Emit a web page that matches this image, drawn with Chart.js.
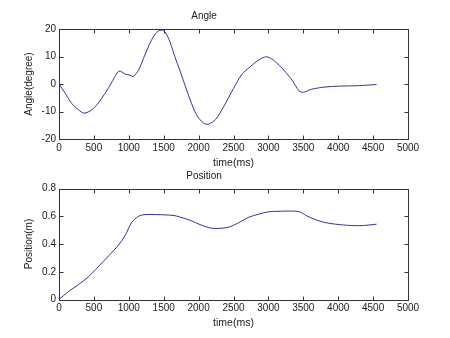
<!DOCTYPE html>
<html>
<head>
<meta charset="utf-8">
<script src="https://cdn.jsdelivr.net/npm/chart.js@4"></script>
<style>
  html, body { margin: 0; padding: 0; background: #ffffff; }
  #wrap { position: relative; width: 450px; height: 338px; background: #fff; }
  .box { position: absolute; left: 0; width: 450px; height: 169px; }
  #b1 { top: 0; }
  #b2 { top: 169px; }
</style>
</head>
<body>
<div id="wrap">
  <div class="box" id="b1"><canvas id="c1" width="450" height="169"></canvas></div>
  <div class="box" id="b2"><canvas id="c2" width="450" height="169"></canvas></div>
</div>
<script>
// ---- Data ----
const angleTime = [0, 90, 180, 280, 360, 470, 560, 660, 760, 860, 950, 1020, 1065, 1140, 1210, 1280, 1350, 1420, 1470, 1520, 1590, 1660, 1730, 1780, 1880, 1970, 2070, 2140, 2240, 2360, 2500, 2620, 2740, 2860, 2970, 3070, 3190, 3300, 3340, 3440, 3500, 3620, 3810, 4000, 4290, 4550];
const angleDeg  = [0, -3.4, -7.0, -9.4, -10.6, -9.4, -7.0, -3.4, 0.8, 4.7, 3.6, 3.2, 2.8, 5.1, 9.3, 13.5, 17.1, 19.2, 19.6, 18.9, 15.3, 9.9, 5.1, 1.4, -5.8, -11.2, -14.2, -14.6, -13.0, -8.2, -1.6, 3.5, 6.3, 8.7, 9.9, 8.7, 5.9, 2.7, 1.4, -2.5, -3.0, -1.9, -1.1, -0.8, -0.6, -0.2];

const posTime = [0, 130, 280, 420, 560, 710, 850, 950, 1040, 1140, 1230, 1380, 1520, 1650, 1730, 1880, 2020, 2160, 2280, 2430, 2570, 2710, 2860, 3000, 3170, 3430, 3550, 3670, 3810, 3960, 4190, 4360, 4550];
const posM    = [0, 0.055, 0.108, 0.163, 0.235, 0.314, 0.391, 0.463, 0.555, 0.600, 0.612, 0.612, 0.610, 0.605, 0.595, 0.571, 0.540, 0.516, 0.512, 0.521, 0.552, 0.591, 0.615, 0.632, 0.636, 0.634, 0.603, 0.576, 0.555, 0.543, 0.533, 0.533, 0.543];

const xTicks = [0, 500, 1000, 1500, 2000, 2500, 3000, 3500, 4000, 4500, 5000];
const angleTicks = [-20, -10, 0, 10, 20];
const posTicks = [0, 0.2, 0.4, 0.6, 0.8];

const FONT = "'Liberation Sans', Arial, Helvetica, sans-serif";
const LINE_COLOR = 'rgb(52,52,145)';
const AXIS_COLOR = '#333333';
const TEXT_COLOR = '#222222';

// Box around the plot with inward tick marks on all four sides (MATLAB style)
const boxPlugin = {
  id: 'matlabBox',
  afterDraw(chart) {
    const ctx = chart.ctx;
    const a = chart.chartArea;
    const xs = chart.scales.x, ys = chart.scales.y;
    const L = 4;
    ctx.save();
    ctx.strokeStyle = AXIS_COLOR;
    ctx.lineWidth = 1;
    ctx.beginPath();
    const l = Math.round(a.left) + 0.5, r = Math.round(a.right) + 0.5;
    const t = Math.round(a.top) + 0.5, b = Math.round(a.bottom) + 0.5;
    ctx.rect(l, t, r - l, b - t);
    xs.ticks.forEach(tk => {
      const px = Math.round(xs.getPixelForValue(tk.value)) + 0.5;
      ctx.moveTo(px, b); ctx.lineTo(px, b - L);
      ctx.moveTo(px, t); ctx.lineTo(px, t + L);
    });
    ys.ticks.forEach(tk => {
      const py = Math.round(ys.getPixelForValue(tk.value)) + 0.5;
      ctx.moveTo(l, py); ctx.lineTo(l + L, py);
      ctx.moveTo(r, py); ctx.lineTo(r - L, py);
    });
    ctx.stroke();
    ctx.restore();
  }
};

function makeChart(canvasId, cfg) {
  const pts = cfg.times.map((t, i) => ({ x: t, y: cfg.values[i] }));
  return new Chart(document.getElementById(canvasId), {
    type: 'line',
    data: {
      datasets: [{
        data: pts,
        borderColor: LINE_COLOR,
        borderWidth: 1,
        pointRadius: 0,
        fill: false,
        tension: 0.3
      }]
    },
    options: {
      responsive: false,
      animation: false,
      events: [],
      layout: { padding: { left: 0, right: 42, top: 0, bottom: 0 } },
      plugins: {
        legend: { display: false },
        tooltip: { enabled: false },
        title: {
          display: true,
          text: cfg.title,
          color: TEXT_COLOR,
          font: { family: FONT, size: 10, weight: 'normal', lineHeight: 1.2 },
          padding: cfg.titlePad
        }
      },
      scales: {
        x: {
          type: 'linear',
          min: 0, max: 5000,
          afterBuildTicks: s => { s.ticks = xTicks.map(v => ({ value: v })); },
          afterFit: s => { s.height = cfg.xHeight; },
          grid: { display: false, drawTicks: false },
          border: { display: false },
          ticks: {
            color: TEXT_COLOR, padding: 3, maxRotation: 0, autoSkip: false,
            font: { family: FONT, size: 10 },
            callback: v => String(v)
          },
          title: {
            display: true, text: 'time(ms)', color: TEXT_COLOR,
            font: { family: FONT, size: 10.5, lineHeight: 1.2 },
            padding: { top: 0, bottom: cfg.xTitleBottom }
          }
        },
        y: {
          type: 'linear',
          min: cfg.yMin, max: cfg.yMax,
          afterBuildTicks: s => { s.ticks = cfg.yTicks.map(v => ({ value: v })); },
          afterFit: s => { s.width = 59; },
          grid: { display: false, drawTicks: false },
          border: { display: false },
          ticks: {
            color: TEXT_COLOR, padding: 3, autoSkip: false,
            font: { family: FONT, size: 10 },
            callback: v => String(v)
          },
          title: {
            display: true, text: cfg.yLabel, color: TEXT_COLOR,
            font: { family: FONT, size: 10, lineHeight: 1.2 },
            padding: { top: 23, bottom: 0 }
          }
        }
      }
    },
    plugins: [boxPlugin]
  });
}

makeChart('c1', {
  times: angleTime, values: angleDeg, title: 'Angle', yLabel: 'Angle(degree)',
  yMin: -20, yMax: 20, yTicks: angleTicks,
  titlePad: { top: 10, bottom: 7 }, xHeight: 30, xTitleBottom: 0
});
makeChart('c2', {
  times: posTime, values: posM, title: 'Position', yLabel: 'Position(m)',
  yMin: 0, yMax: 0.8, yTicks: posTicks,
  titlePad: { top: 1.5, bottom: 6 }, xHeight: 38.5, xTitleBottom: 9
});
</script>
</body>
</html>
